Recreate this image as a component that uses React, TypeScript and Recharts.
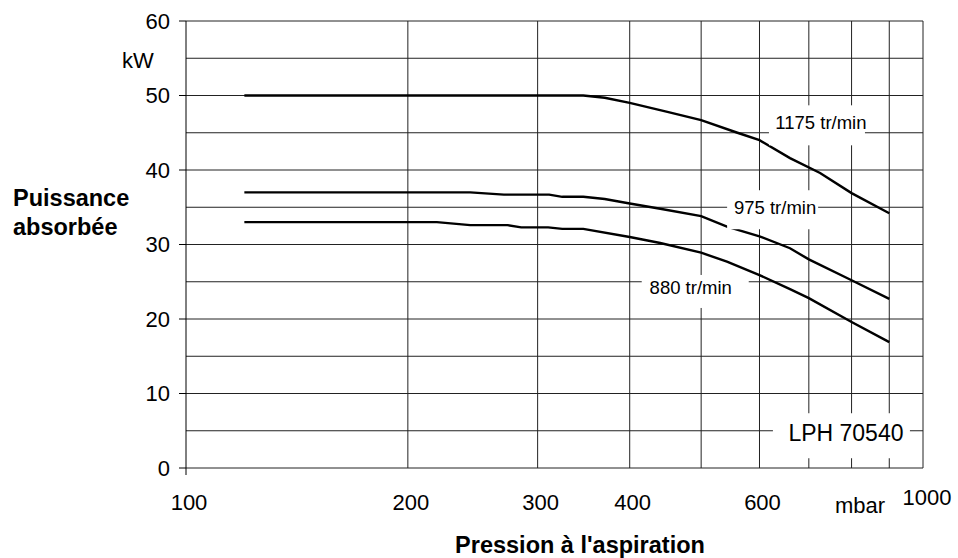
import React from "react";
import {
  CartesianGrid,
  Label,
  Line,
  LineChart,
  ReferenceDot,
  XAxis,
  YAxis,
} from "recharts";

// pressure (mbar) / absorbed power (kW)
const p1175 = [120, 346, 370, 400, 450, 500, 560, 600, 660, 725, 800, 900];
const kw1175 = [50, 50, 49.7, 49.0, 47.8, 46.7, 45.0, 44.0, 41.6, 39.6, 36.9, 34.2];

const p975 = [120, 243, 270, 311, 324, 346, 370, 400, 440, 500, 542, 600, 660, 700, 800, 900];
const kw975 = [37, 37, 36.7, 36.7, 36.4, 36.4, 36.1, 35.5, 34.8, 33.8, 32.4, 31.1, 29.5, 28.0, 25.2, 22.7];

const p880 = [120, 219, 243, 273, 285, 310, 324, 346, 400, 440, 500, 542, 600, 660, 700, 800, 900];
const kw880 = [33, 33, 32.6, 32.6, 32.3, 32.3, 32.1, 32.1, 31.0, 30.2, 28.9, 27.7, 25.9, 24.0, 22.8, 19.6, 16.9];

const pressureTicks = [100, 200, 300, 400, 600, 1000];
const gridPressures = [200, 300, 400, 500, 600, 700, 800, 900, 1000];
const powerTicks = [0, 10, 20, 30, 40, 50, 60];
const gridPowers = [5, 10, 15, 20, 25, 30, 35, 40, 45, 50, 55, 60];

const curveLabels = ["1175 tr/min", "975 tr/min", "880 tr/min", "LPH 70540"];
const labelPressures = [727, 630, 484, 786];
const labelPowers = [46.4, 35.0, 24.3, 4.8];

const FONT = "'Liberation Sans', Arial, sans-serif";

// white boxes cutting the grid behind each label: [left, right, top, bottom], font size
const labelBoxes = [
  { l: -52, r: 44, t: -17, b: 23, fs: 18.5 },
  { l: -48, r: 43, t: -17, b: 22, fs: 18.5 },
  { l: -49, r: 58, t: -12, b: 21, fs: 18.5 },
  { l: -73, r: 64, t: -19, b: 26, fs: 23 },
];

const toPoints = (ps: number[], ks: number[]) => ps.map((p, i) => ({ p, kw: ks[i] }));

const series = [
  { name: "1175", data: toPoints(p1175, kw1175) },
  { name: "975", data: toPoints(p975, kw975) },
  { name: "880", data: toPoints(p880, kw880) },
];

const XTick = (props: any) => {
  const { x, y, payload } = props;
  const v = payload.value;
  const raised = v === 1000;
  return (
    <g>
      {v === 100 && <line x1={x} x2={x} y1={y} y2={y + 7} stroke="#000" />}
      <text
        x={x + (raised ? 4 : 3)}
        y={y + (raised ? 37 : 42)}
        textAnchor="middle"
        fontSize={22}
        fontFamily={FONT}
        fill="#000"
      >
        {v}
      </text>
    </g>
  );
};

const LabelBox = (i: number) => (props: any) => {
  const { cx, cy } = props;
  const b = labelBoxes[i];
  return (
    <g>
      <rect x={cx + b.l} y={cy + b.t} width={b.r - b.l} height={b.b - b.t} fill="#fff" />
      <text
        x={cx}
        y={cy}
        dy="0.36em"
        textAnchor="middle"
        fontSize={b.fs}
        fontFamily={FONT}
        fill="#000"
      >
        {curveLabels[i]}
      </text>
    </g>
  );
};

export default function App() {
  return (
    <div style={{ position: "absolute", left: 0, top: 0, background: "#fff" }}>
      <LineChart
        width={958}
        height={558}
        margin={{ top: 21, right: 35, bottom: 0, left: 0 }}
      >
        <CartesianGrid
          stroke="#222"
          strokeWidth={1}
          horizontalValues={gridPowers}
          verticalValues={gridPressures}
        />
        <XAxis
          dataKey="p"
          type="number"
          scale="log"
          domain={[100, 1000]}
          ticks={pressureTicks}
          interval={0}
          allowDataOverflow
          height={90}
          tickSize={0}
          tickMargin={0}
          tickLine={false}
          axisLine={{ stroke: "#222" }}
          tick={<XTick />}
        >
          <Label
            content={(props: any) => {
              const vb = props.viewBox;
              return (
                <g fontFamily={FONT} fill="#000">
                  <text x={vb.x + 674} y={vb.y + 45} textAnchor="middle" fontSize={22}>
                    mbar
                  </text>
                  <text
                    x={vb.x + 394}
                    y={vb.y + 85}
                    textAnchor="middle"
                    fontSize={23.5}
                    fontWeight="bold"
                  >
                    Pression à l'aspiration
                  </text>
                </g>
              );
            }}
          />
        </XAxis>
        <YAxis
          type="number"
          domain={[0, 60]}
          ticks={powerTicks}
          interval={0}
          width={186}
          tickSize={7}
          tickMargin={9}
          axisLine={{ stroke: "#000" }}
          tickLine={{ stroke: "#000" }}
          tick={{ fontSize: 22, fill: "#000", fontFamily: FONT }}
        >
          <Label
            content={(props: any) => {
              const vb = props.viewBox;
              return (
                <g fontFamily={FONT} fill="#000">
                  <text x={138} y={vb.y + 47} textAnchor="middle" fontSize={22}>
                    kW
                  </text>
                  <text x={13} y={vb.y + 185} fontSize={23.5} fontWeight="bold">
                    Puissance
                  </text>
                  <text x={13} y={vb.y + 214} fontSize={23.5} fontWeight="bold">
                    absorbée
                  </text>
                </g>
              );
            }}
          />
        </YAxis>
        {series.map((s) => (
          <Line
            key={s.name}
            data={s.data}
            dataKey="kw"
            type="linear"
            stroke="#000"
            strokeWidth={2.4}
            dot={false}
            activeDot={false}
            isAnimationActive={false}
          />
        ))}
        {curveLabels.map((t, i) => (
          <ReferenceDot
            key={t}
            x={labelPressures[i]}
            y={labelPowers[i]}
            r={0}
            shape={LabelBox(i)}
          />
        ))}
      </LineChart>
    </div>
  );
}
